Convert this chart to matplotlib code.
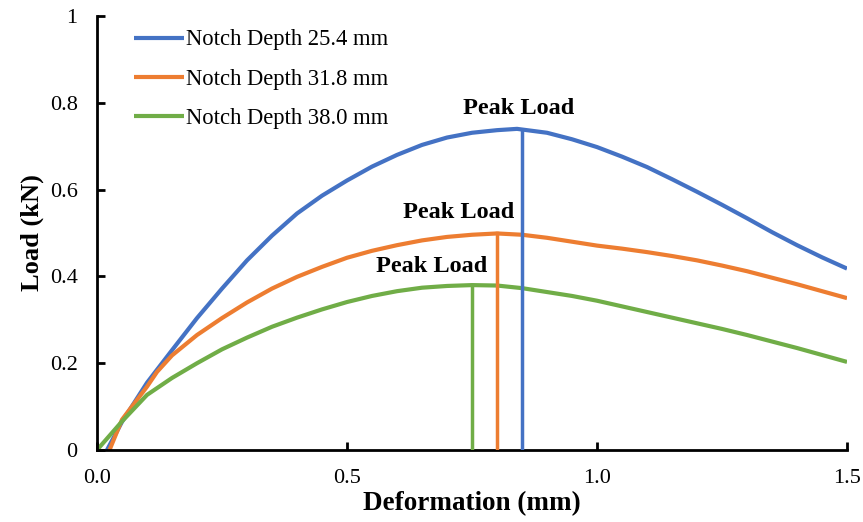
import matplotlib.pyplot as plt

plt.rcParams['font.family'] = ['Liberation Serif', 'DejaVu Serif']

# load-deformation curves (mm, kN)
defo_25 = [0.02, 0.05, 0.10, 0.15, 0.20, 0.25, 0.30, 0.35, 0.40, 0.45, 0.50, 0.55,
           0.60, 0.65, 0.70, 0.75, 0.80, 0.84, 0.90, 0.95, 1.00, 1.05, 1.10, 1.15,
           1.20, 1.25, 1.30, 1.35, 1.40, 1.45, 1.50]
load_25 = [0.000, 0.065, 0.155, 0.230, 0.304, 0.372, 0.437, 0.494, 0.545, 0.586, 0.621, 0.653,
           0.680, 0.703, 0.720, 0.731, 0.737, 0.740, 0.731, 0.716, 0.698, 0.676, 0.652, 0.624,
           0.595, 0.565, 0.534, 0.502, 0.472, 0.444, 0.418]

defo_31 = [0.025, 0.05, 0.10, 0.12, 0.15, 0.20, 0.25, 0.30, 0.35, 0.40, 0.45, 0.50, 0.55,
           0.60, 0.65, 0.70, 0.75, 0.80, 0.85, 0.90, 0.95, 1.00, 1.05, 1.10, 1.15,
           1.20, 1.25, 1.30, 1.35, 1.40, 1.45, 1.50]
load_31 = [0.000, 0.070, 0.146, 0.180, 0.218, 0.265, 0.304, 0.340, 0.372, 0.399, 0.422, 0.443, 0.459,
           0.472, 0.483, 0.491, 0.496, 0.499, 0.496, 0.489, 0.480, 0.471, 0.464, 0.456, 0.447,
           0.437, 0.425, 0.412, 0.397, 0.382, 0.366, 0.350]

defo_38 = [0.00, 0.05, 0.10, 0.15, 0.20, 0.25, 0.30, 0.35, 0.40, 0.45, 0.50, 0.55,
           0.60, 0.65, 0.70, 0.75, 0.80, 0.85, 0.90, 0.95, 1.00, 1.05, 1.10, 1.15,
           1.20, 1.25, 1.30, 1.35, 1.40, 1.45, 1.50]
load_38 = [0.000, 0.066, 0.127, 0.166, 0.200, 0.232, 0.259, 0.284, 0.305, 0.324, 0.341, 0.355,
           0.366, 0.374, 0.378, 0.380, 0.379, 0.373, 0.364, 0.355, 0.344, 0.331, 0.318, 0.305,
           0.292, 0.279, 0.265, 0.250, 0.235, 0.219, 0.203]

labels = ['Notch Depth 25.4 mm', 'Notch Depth 31.8 mm', 'Notch Depth 38.0 mm']
colors = ['#4472C4', '#ED7D31', '#70AD47']

# peak markers: deformation, load, label position
peak_defo = [0.85, 0.80, 0.75]
peak_load = [0.737, 0.499, 0.380]
peak_text_pos = [(0.843, 0.788), (0.723, 0.548), (0.669, 0.424)]

fig = plt.figure(figsize=(8.63, 5.22), dpi=100)
ax = fig.add_axes([0.1124, 0.1379, 0.8691, 0.8314])

curves = [(defo_25, load_25), (defo_31, load_31), (defo_38, load_38)]
for (x, y), lab, c in zip(curves, labels, colors):
    ax.plot(x, y, color=c, lw=3, label=lab, solid_capstyle='butt')

for px, py, c, (tx, ty) in zip(peak_defo, peak_load, colors, peak_text_pos):
    ax.plot([px, px], [0, py], color=c, lw=2.5, zorder=3)
    ax.text(tx, ty, 'Peak Load', ha='center', va='center', fontsize=17.5,
            fontweight='bold')

ax.set_xlim(0, 1.5)
ax.set_ylim(0, 1)
ax.set_xticks([0, 0.5, 1.0, 1.5])
ax.set_xticklabels(['0.0', '0.5', '1.0', '1.5'])
ax.set_yticks([0, 0.2, 0.4, 0.6, 0.8, 1.0])
ax.set_yticklabels(['0', '0.2', '0.4', '0.6', '0.8', '1'])
ax.tick_params(direction='in', length=6, width=2, labelsize=16, pad=14)

for side in ['top', 'right']:
    ax.spines[side].set_visible(False)
for side in ['left', 'bottom']:
    ax.spines[side].set_linewidth(2)

ax.set_xlabel('Deformation (mm)', fontsize=19.5, fontweight='bold', labelpad=2)
ax.set_ylabel('Load (kN)', fontsize=19, fontweight='bold', labelpad=4)

ax.legend(loc='upper left', bbox_to_anchor=(0.022, 1.016), frameon=False,
          fontsize=16.3, handlelength=2.2, handletextpad=0.1, labelspacing=0.8)

fig.savefig('out.png', dpi=100)
